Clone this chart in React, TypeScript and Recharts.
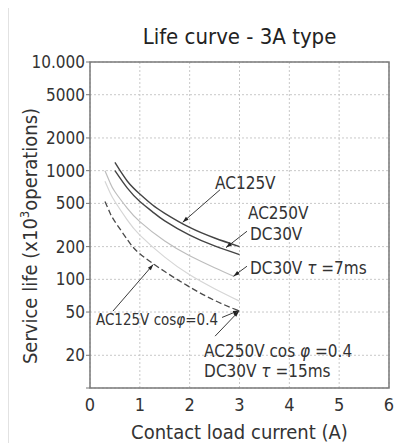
import React from 'react';
import { LineChart, Line, XAxis, YAxis, CartesianGrid, ReferenceArea, ReferenceLine, ReferenceDot } from 'recharts';

const FONT = "'DejaVu Sans Condensed', 'Liberation Sans Narrow', sans-serif";

// axis ticks
const xTicks = [0, 1, 2, 3, 4, 5, 6];
const yTicks = [10, 20, 50, 100, 200, 500, 1000, 2000, 5000, 10000];
const yTickLabels = ['', '20', '50', '100', '200', '500', '1000', '2000', '5000', '10.000'];

// curves (current in A, life in x10^3 operations)
const ac125Current = [0.5, 0.75, 1, 1.25, 1.5, 2, 2.5, 3];
const ac125Life = [1190, 800, 610, 485, 405, 300, 240, 200];

const ac250Current = [0.5, 0.75, 1, 1.25, 1.5, 2, 2.5, 3];
const ac250Life = [1000, 690, 520, 420, 345, 255, 203, 169];

const dc7Current = [0.3, 0.4, 0.5, 0.75, 1, 1.5, 2, 2.5, 2.9];
const dc7Life = [1000, 780, 640, 450, 340, 225, 165, 128, 106];

const ac125CosCurrent = [0.3, 0.4, 0.5, 0.75, 1, 1.5, 2, 2.5, 3];
const ac125CosLife = [800, 630, 520, 350, 255, 160, 110, 82, 63];

const ac250CosCurrent = [0.3, 0.4, 0.5, 0.75, 1, 1.5, 2, 2.5, 3];
const ac250CosLife = [521, 410, 340, 232, 172, 118, 85, 64, 51];

const toPoints = (xs: number[], ys: number[]) => xs.map((x, i) => ({ current: x, life: ys[i] }));

// text labels: anchor (left, middle) in data units
type Part = { t: string; italic?: boolean };
const labels: { x: number; y: number; parts: Part[]; size?: number }[] = [
  { x: 2.51, y: 774, parts: [{ t: 'AC125V' }] },
  { x: 3.17, y: 410, parts: [{ t: 'AC250V' }] },
  { x: 3.21, y: 263, parts: [{ t: 'DC30V' }] },
  { x: 3.21, y: 128, parts: [{ t: 'DC30V  ' }, { t: 'τ', italic: true }, { t: ' =7ms' }] },
  { x: 0.12, y: 42, parts: [{ t: 'AC125V cos' }, { t: 'φ', italic: true }, { t: '=0.4' }], size: 15 },
  { x: 2.29, y: 21.7, parts: [{ t: 'AC250V cos ' }, { t: 'φ', italic: true }, { t: ' =0.4' }] },
  { x: 2.29, y: 14.2, parts: [{ t: 'DC30V  ' }, { t: 'τ', italic: true }, { t: ' =15ms' }] },
];

// leader arrows: from label to curve
const arrows: [number, number, number, number][] = [
  [2.61, 668, 1.86, 335],
  [3.15, 277, 2.73, 196],
  [3.15, 132, 2.88, 107],
  [0.46, 51, 1.27, 137],
  [2.65, 44.6, 2.99, 51.7],
  [2.51, 30, 2.99, 51],
];

const ArrowShape = (p: any) => {
  const { x1, y1, x2, y2 } = p;
  if ([x1, y1, x2, y2].some((v) => typeof v !== 'number' || isNaN(v))) return null;
  const a = Math.atan2(y2 - y1, x2 - x1);
  const len = 6;
  const w = 2;
  const bx = x2 - len * Math.cos(a);
  const by = y2 - len * Math.sin(a);
  const pts = [
    `${x2},${y2}`,
    `${bx - w * Math.sin(a)},${by + w * Math.cos(a)}`,
    `${bx + w * Math.sin(a)},${by - w * Math.cos(a)}`,
  ].join(' ');
  return (
    <g>
      <line x1={x1} y1={y1} x2={x2} y2={y2} stroke="#3a3a3a" strokeWidth={1} />
      <polygon points={pts} fill="#222" />
    </g>
  );
};

const makeLabel = (parts: Part[], size: number) => (p: any) => (
  <text x={p.cx} y={p.cy} dominantBaseline="central" fontSize={size} fill="#333" fontFamily={FONT}>
    {parts.map((q, i) => (
      <tspan key={i} fontStyle={q.italic ? 'italic' : 'normal'}>
        {q.t}
      </tspan>
    ))}
  </text>
);

const YLabel = () => (
  <text
    transform="translate(28,233) rotate(-90)"
    textAnchor="middle"
    fontSize={20}
    fill="#333"
    fontFamily={FONT}
  >
    Service life (x10
    <tspan dy={-8} fontSize={13}>3</tspan>
    <tspan dy={8}>operations)</tspan>
  </text>
);

export default function App() {
  return (
    <div
      style={{
        position: 'relative',
        width: 396,
        height: 440,
        marginTop: -6,
        borderTop: '1px solid #e2e2e2',
        borderLeft: '1px solid #e2e2e2',
        background: '#fff',
        fontFamily: FONT,
      }}
    >
      <div
        style={{
          position: 'absolute',
          left: 81,
          width: 299,
          top: 21,
          textAlign: 'center',
          fontSize: 22,
          lineHeight: '26px',
          color: '#222',
        }}
      >
        Life curve - 3A type
      </div>
      <LineChart width={396} height={440} margin={{ top: 59, right: 16, bottom: 0, left: 21 }}>
        <CartesianGrid stroke="#c8c8c8" strokeDasharray="2 2" />
        <XAxis
          type="number"
          dataKey="current"
          domain={[0, 6]}
          ticks={xTicks}
          height={55}
          tickLine={false}
          axisLine={false}
          tickSize={0}
          tickMargin={10}
          tick={{ fontSize: 18, fill: '#333', fontFamily: FONT }}
          label={{ value: 'Contact load current (A)', position: 'insideBottom', offset: 4, fontSize: 20, fill: '#333', fontFamily: FONT }}
        />
        <YAxis
          type="number"
          dataKey="life"
          scale="log"
          domain={[10, 10000]}
          allowDataOverflow
          ticks={yTicks}
          width={60}
          axisLine={false}
          tickSize={4}
          tickMargin={1}
          tickLine={{ stroke: '#777' }}
          tickFormatter={(v: number) => yTickLabels[yTicks.indexOf(v)] ?? ''}
          tick={{ fontSize: 17, fill: '#333', fontFamily: FONT }}
          label={{ content: () => <YLabel /> }}
        />
        <ReferenceArea x1={0} x2={6} y1={10} y2={10000} fill="none" stroke="#7a7a7a" strokeWidth={1.5} />

        <Line data={toPoints(ac125Current, ac125Life)} dataKey="life" type="natural" stroke="#444" strokeWidth={1.4} dot={false} isAnimationActive={false} />
        <Line data={toPoints(ac250Current, ac250Life)} dataKey="life" type="natural" stroke="#444" strokeWidth={1.4} dot={false} isAnimationActive={false} />
        <Line data={toPoints(dc7Current, dc7Life)} dataKey="life" type="natural" stroke="#bdbdbd" strokeWidth={1.2} dot={false} isAnimationActive={false} />
        <Line data={toPoints(ac125CosCurrent, ac125CosLife)} dataKey="life" type="natural" stroke="#d6d6d6" strokeWidth={1.2} dot={false} isAnimationActive={false} />
        <Line data={toPoints(ac250CosCurrent, ac250CosLife)} dataKey="life" type="natural" stroke="#4a4a4a" strokeWidth={1.3} strokeDasharray="6 3" dot={false} isAnimationActive={false} />

        {arrows.map((a, i) => (
          <ReferenceLine
            key={'a' + i}
            segment={[{ x: a[0], y: a[1] }, { x: a[2], y: a[3] }]}
            shape={ArrowShape}
          />
        ))}
        {labels.map((l, i) => (
          <ReferenceDot key={'l' + i} x={l.x} y={l.y} r={0} shape={makeLabel(l.parts, l.size ?? 17)} />
        ))}
      </LineChart>
    </div>
  );
}
